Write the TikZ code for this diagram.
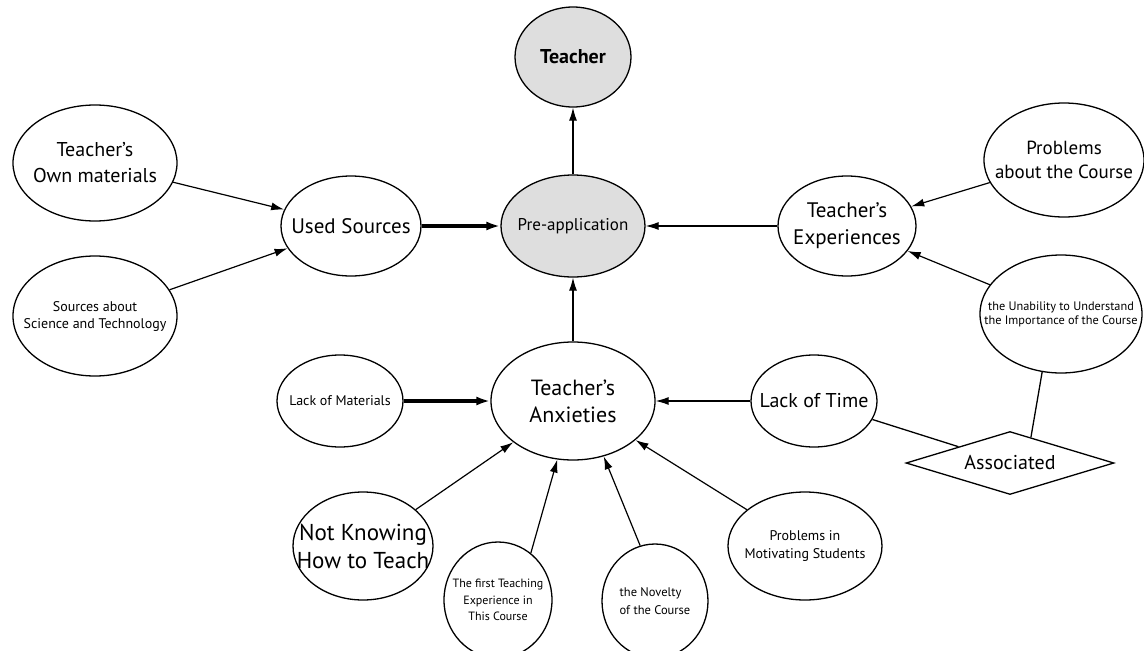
\documentclass[tikz,border=0pt]{standalone}
\usepackage{fontspec}
\setmainfont{PT Sans}
\usetikzlibrary{shapes.geometric,arrows.meta,calc}
\definecolor{nodegray}{RGB}{222,222,222}
\newcommand{\fs}[2]{\fontsize{#1}{#2}\selectfont}
\begin{document}
\begin{tikzpicture}[x=1pt,y=-1pt,
  ell/.style={ellipse, draw, line width=1.3pt, inner sep=-60pt, align=center},
  grayell/.style={ell, fill=nodegray},
  arr/.style={-{Latex[length=13pt,width=8pt]}, line width=1.2pt},
  arrthick/.style={-{Latex[length=14pt,width=9pt]}, line width=3.2pt},
  plain/.style={line width=1.3pt},
]
\useasboundingbox (0,0) rectangle (1144,651);

\node[grayell, minimum width=116pt, minimum height=100pt, font=\fs{20}{25}\bfseries] (teacher) at (573,57) {Teacher};
\node[grayell, minimum width=144pt, minimum height=102pt, font=\fs{17}{21}] (pre) at (573,226) {Pre-application};
\node[ell, minimum width=140pt, minimum height=100pt, font=\fs{21}{26}] (used) at (351,226) {Used Sources};
\node[ell, minimum width=164pt, minimum height=116pt, font=\fs{20}{26}] (own) at (95,163) {Teacher’s\\Own materials};
\node[ell, minimum width=164pt, minimum height=120pt, font=\fs{14}{17}] (sst) at (95,316) {Sources about\\Science and Technology};
\node[ell, minimum width=138pt, minimum height=100pt, font=\fs{21}{27}] (exp) at (847,226) {Teacher’s\\Experiences};
\node[ell, minimum width=160pt, minimum height=114pt, font=\fs{19}{24}] (pac) at (1064,160) {Problems\\about the Course};
\node[ell, minimum width=162pt, minimum height=118pt, font=\fs{12.3}{14}] (unab) at (1061,314) {the Unability to Understand\\the Importance of the Course};
\node[ell, minimum width=164pt, minimum height=118pt, font=\fs{22}{27}] (anx) at (573,401) {Teacher’s\\Anxieties};
\node[ell, minimum width=126pt, minimum height=92pt, font=\fs{14}{17}] (lom) at (340,401) {Lack of Materials};
\node[ell, minimum width=126pt, minimum height=92pt, font=\fs{20}{24}] (lot) at (814,401) {Lack of Time};
\node[diamond, draw, line width=1.3pt, inner sep=0pt, aspect=3.3, minimum width=208pt, minimum height=63pt, font=\fs{20}{24}] (assoc) at (1010,463) {Associated};
\node[ell, minimum width=140pt, minimum height=108pt, font=\fs{23}{28}] (nkt) at (363,546) {Not Knowing\\How to Teach};
\node[ell, minimum width=108pt, minimum height=116pt, font=\fs{12}{16.5}] (fte) at (498,600) {The first Teaching\\Experience in\\This Course};
\node[ell, minimum width=106pt, minimum height=114pt, font=\fs{12.5}{18}, align=left] (nov) at (655,601) {the Novelty\\of the Course};
\node[ell, minimum width=154pt, minimum height=108pt, font=\fs{14}{18}] (pim) at (805,546) {Problems in\\Motivating Students};

\draw[arr] (pre) -- (teacher);
\draw[arrthick] (used) -- (pre);
\draw[arr] (own) -- (used);
\draw[arr] (sst) -- (used);
\draw[arr] (exp) -- (pre);
\draw[arr] (pac) -- (exp);
\draw[arr] (unab) -- (exp);
\draw[arr] (anx) -- (pre);
\draw[arrthick] (lom) -- (anx);
\draw[arr] (lot) -- (anx);
\draw[arr] (nkt) -- (anx);
\draw[arr] (fte.55) -- (anx.255);
\draw[arr] (nov.105) -- (anx.299);
\draw[arr] (pim) -- (anx);
\draw[plain] (lot) -- (assoc);
\draw[plain] (unab.252) -- ($(assoc.north)!0.2!(assoc.east)$);
\end{tikzpicture}
\end{document}
